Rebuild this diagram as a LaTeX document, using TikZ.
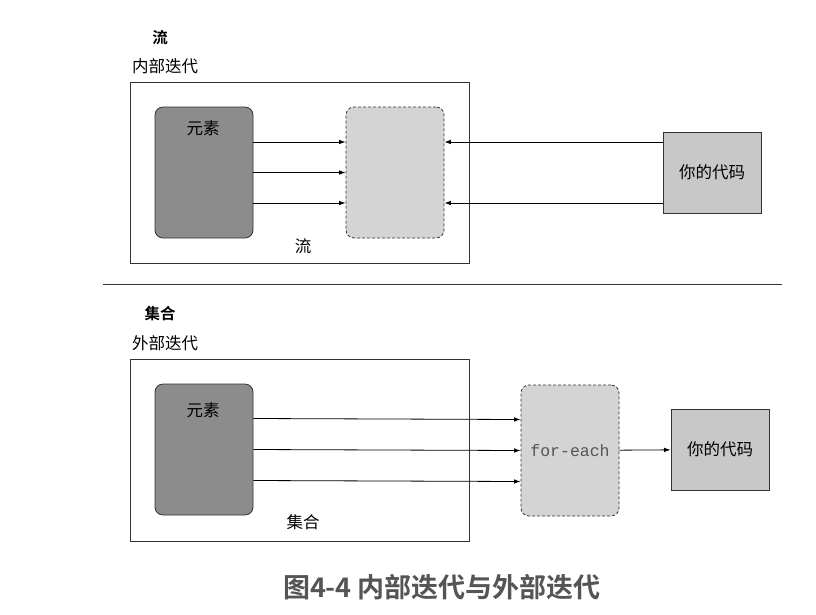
\documentclass[tikz,border=0pt]{standalone}
\usepackage{fontspec}
\usetikzlibrary{arrows.meta}
\newfontfamily\cjk{Noto Sans CJK SC}[BoldFont={Noto Sans CJK SC Bold}]
\setmonofont{Liberation Mono}
\definecolor{elemgray}{HTML}{8C8C8C}
\definecolor{streamgray}{HTML}{D4D4D4}
\definecolor{codegray}{HTML}{C8C8C8}
\definecolor{capgray}{HTML}{555555}
\begin{document}
\begin{tikzpicture}[x=1pt, y=-1pt,
         arrow/.style={-{Latex[length=6.5pt,width=4.5pt]}, black, line width=0.8pt},
         outer/.style={draw=black!80, line width=0.8pt, minimum width=339pt, minimum height=181pt},
         elems/.style={draw=black!80, fill=elemgray, rounded corners=8pt, line width=0.8pt, minimum width=98pt, minimum height=131pt},
         iter/.style={draw=black!80, dash pattern=on 3pt off 2pt, fill=streamgray, rounded corners=8pt, line width=0.8pt, minimum width=98pt, minimum height=131pt},
         code/.style={draw=black!80, fill=codegray, line width=0.8pt, minimum width=98pt, minimum height=81pt, font=\cjk\fontsize{16.5}{18}\selectfont},
         label/.style={font=\cjk\fontsize{16.5}{18}\selectfont, inner sep=0pt},
         title/.style={font=\cjk\bfseries\fontsize{15.5}{18}\selectfont, inner sep=0pt},
         font=\cjk
      ]
   \useasboundingbox (0,0) rectangle (816,614);

   % internal iteration
   \node[title] (t1) at (160, 38) {流};
   \node[label] (k1) at (165, 66) {内部迭代};
   \node[outer] (o1) at (299.5, 172.5) {};
   \node[elems] (e1) at (204, 172.5) {};
   \node[iter] (s1) at (395, 172.5) {};
   \node[code] (c1) at (712, 172.5) {你的代码};
   \node[label] (e1L) at (203, 128) {元素};
   \node[label] (o1L) at (303, 246) {流};

   \begin{scope}[arrow]
      \foreach \dy in {30.5, 0, -30.5}
         \draw ([yshift=\dy pt]e1.east) -- ([yshift=\dy pt]s1.west);
      \foreach \dy in {30.5, -30.5}
         \draw ([yshift=\dy pt]c1.west) -- ([yshift=\dy pt]s1.east);
   \end{scope}

   \coordinate (sepL) at (103, 284);
   \coordinate (sepR) at (782, 284);
   \draw[black!80, line width=0.8pt] (sepL) -- (sepR);

   % external iteration
   \node[title] (t2) at (160, 314) {集合};
   \node[label] (k2) at (165, 343) {外部迭代};
   \node[outer, minimum height=182pt] (o2) at (299.5, 450) {};
   \node[elems] (e2) at (204, 449.5) {};
   \node[iter, font=\ttfamily\fontsize{16.5}{18}\selectfont, text=capgray] (f2) at (570, 450.5) {for-each};
   \node[code] (c2) at (720, 449.5) {你的代码};
   \node[label] (e2L) at (203, 410) {元素};
   \node[label] (o2L) at (303, 522) {集合};

   \begin{scope}[arrow]
      \foreach \dy in {31, 0, -31}
         \draw ([yshift=\dy pt]e2.east) -- ([yshift=\dy pt]f2.west);
      \draw (f2) -- (c2);
   \end{scope}

   \node[font=\cjk\bfseries\fontsize{27}{30}\selectfont, text=capgray] (cap) at (442, 587) {图4-4 内部迭代与外部迭代};
\end{tikzpicture}
\end{document}
